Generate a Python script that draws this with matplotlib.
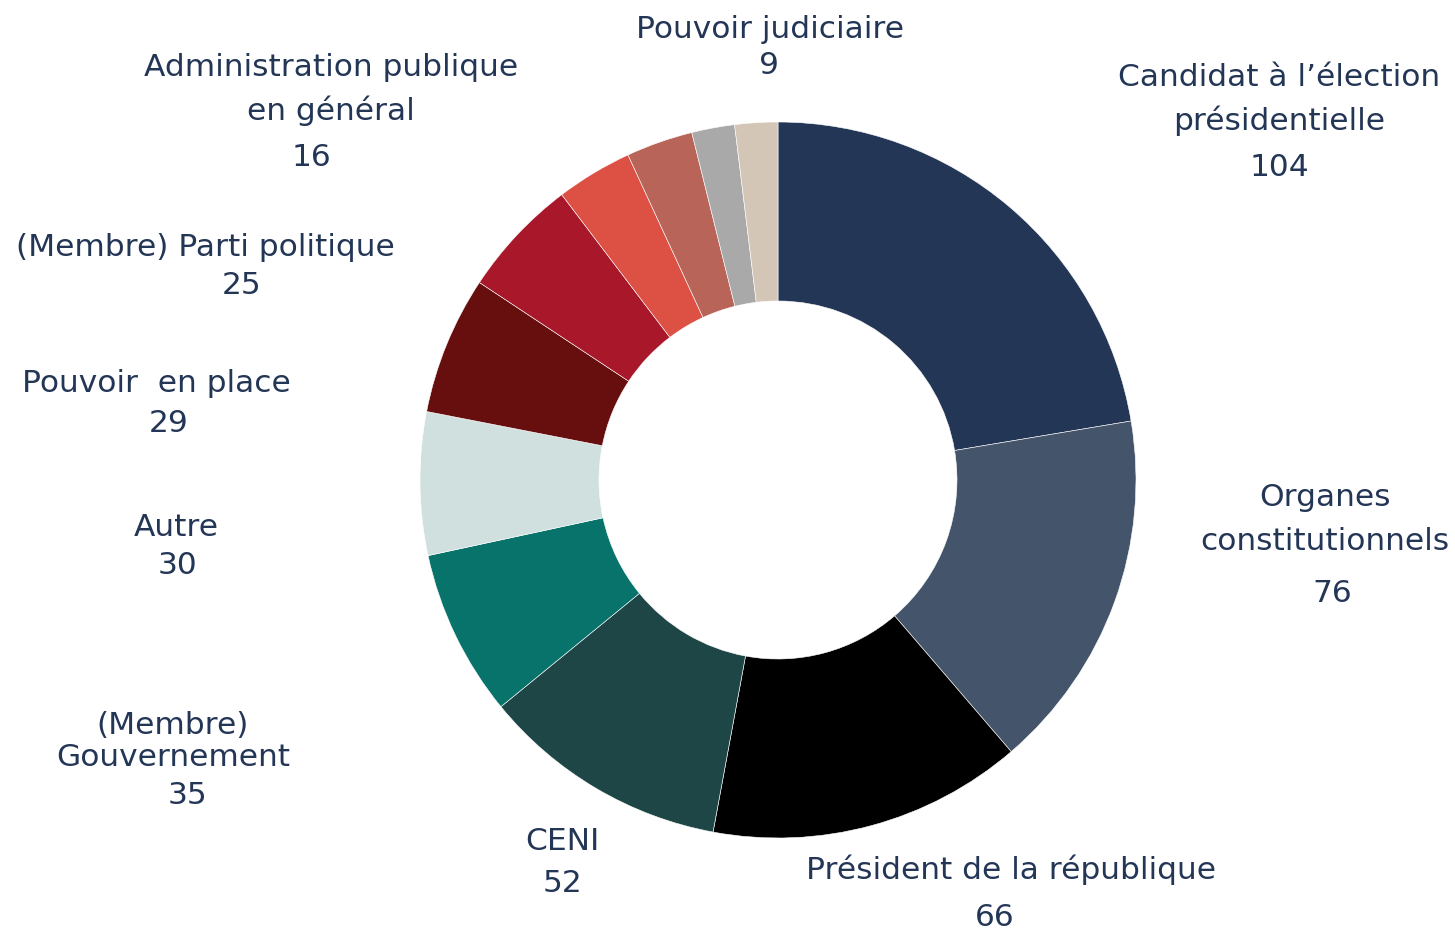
import matplotlib
matplotlib.use("Agg")
import matplotlib.pyplot as plt

categories = ["Candidat à l’élection\nprésidentielle", "Organes\nconstitutionnels",
              "Président de la république", "CENI", "(Membre)\nGouvernement", "Autre",
              "Pouvoir  en place", "(Membre) Parti politique",
              "Administration publique\nen général", "", "", "Pouvoir judiciaire"]
values = [104, 76, 66, 52, 35, 30, 29, 25, 16, 14, 9, 9]
colors = ["#243656", "#44546a", "#000000", "#1e4646", "#08736b", "#cfe0de",
          "#670e0e", "#a8182a", "#dd5044", "#b86459", "#a9a9a9", "#d4c6b6"]

# label anchor positions in pixel space (x, y of top line center, x, y of value)
label_pos = {
    0: (1279, 77, 1279, 168),
    1: (1325, 498, 1332, 593),
    2: (1011, 870, 995, 918),
    3: (562, 841, 562, 883),
    4: (173, 725, 188, 795),
    5: (176, 528, 178, 565),
    6: (156, 383, 169, 423),
    7: (205, 247, 242, 285),
    8: (331, 67, 311, 157),
    11: (770, 30, 769, 66),
}
linesp = {0: 44, 1: 44, 4: 33, 8: 44}

W, H = 1455, 932
fig = plt.figure(figsize=(W / 100, H / 100), dpi=100)
ax = fig.add_axes([0, 0, 1, 1])

cx, cy, r = 778, 480, 358
wedges, _ = ax.pie(values, colors=colors, startangle=270, counterclock=True,
                   center=(cx, cy), radius=r, frame=True,
                   wedgeprops=dict(width=r * 0.5, edgecolor="white", linewidth=0.4))
ax.set_xlim(0, W)
ax.set_ylim(H, 0)
ax.set_aspect("equal")
ax.axis("off")

txt_color = "#243656"
fam = ["DejaVu Sans"]
fs = 22.5
for i, (lx, ly, vx, vy) in label_pos.items():
    lines = categories[i].split("\n")
    sp = linesp.get(i, 44)
    for k, line in enumerate(lines):
        ax.text(lx, ly + k * sp, line, ha="center", va="center", fontsize=fs,
                color=txt_color, family=fam)
    ax.text(vx, vy, str(values[i]), ha="center", va="center", fontsize=fs,
            color=txt_color, family=fam)

fig.savefig("out.png", dpi=100)
